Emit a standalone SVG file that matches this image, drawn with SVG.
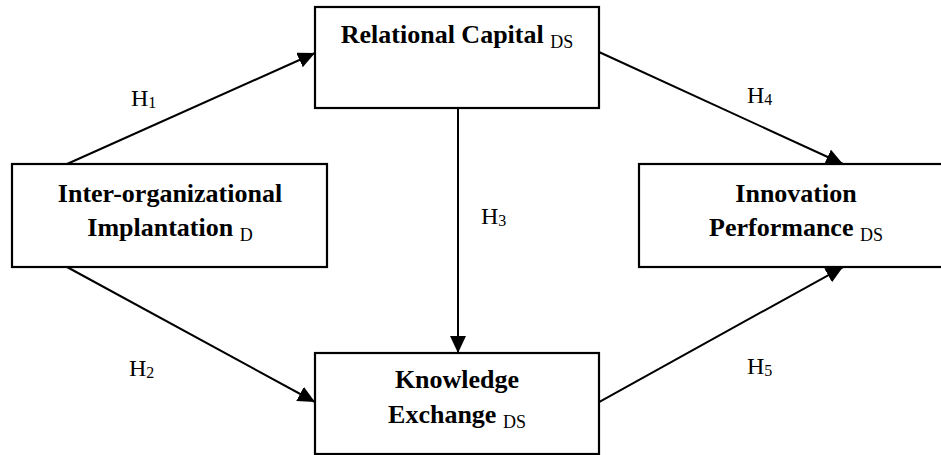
<svg xmlns="http://www.w3.org/2000/svg" width="941" height="455" viewBox="0 0 941 455">
  <style>
    .box { fill: #ffffff; stroke: #000000; stroke-width: 2.2; }
    .title { font-family: "Liberation Serif", "Times New Roman", serif; font-weight: bold; font-size: 26px; fill: #000000; }
    .sub { font-family: "Liberation Serif", "Times New Roman", serif; font-weight: normal; font-size: 18px; }
    .hyp { font-family: "Liberation Serif", "Times New Roman", serif; font-size: 24px; fill: #000000; }
    .hsub { font-size: 16px; }
    .edge { stroke: #000000; stroke-width: 2; fill: none; marker-end: url(#arrow); }
  </style>
  <defs>
    <marker id="arrow" markerUnits="userSpaceOnUse" markerWidth="18" markerHeight="16" refX="17" refY="8" orient="auto">
      <path d="M0,0 L17,8 L0,16 z" fill="#000000"/>
    </marker>
  </defs>
  <rect width="941" height="455" fill="#ffffff"/>

  <g id="connectors">
    <line class="edge" x1="67" y1="164" x2="315" y2="53"/>
    <line class="edge" x1="67" y1="267" x2="315" y2="402"/>
    <line class="edge" x1="458" y1="108" x2="458" y2="353"/>
    <line class="edge" x1="599" y1="52" x2="843" y2="164"/>
    <line class="edge" x1="599" y1="402" x2="843" y2="267"/>
  </g>

  <g id="labels">
    <text class="hyp" x="131" y="106">H<tspan class="hsub" dy="2">1</tspan></text>
    <text class="hyp" x="129" y="376">H<tspan class="hsub" dy="2">2</tspan></text>
    <text class="hyp" x="481" y="224">H<tspan class="hsub" dy="2">3</tspan></text>
    <text class="hyp" x="747" y="103">H<tspan class="hsub" dy="2">4</tspan></text>
    <text class="hyp" x="747" y="374">H<tspan class="hsub" dy="2">5</tspan></text>
  </g>

  <g id="relational-capital">
    <rect class="box" x="315" y="7" width="284" height="101"/>
    <text class="title" x="457" y="43" text-anchor="middle">Relational Capital <tspan class="sub" dy="5">DS</tspan></text>
  </g>

  <g id="inter-organizational-implantation">
    <rect class="box" x="12" y="164" width="315" height="103"/>
    <text class="title" x="170" y="202" text-anchor="middle">Inter-organizational</text>
    <text class="title" x="170" y="236" text-anchor="middle">Implantation <tspan class="sub" dy="5">D</tspan></text>
  </g>

  <g id="innovation-performance">
    <rect class="box" x="639" y="164" width="316" height="103"/>
    <text class="title" x="796" y="202" text-anchor="middle">Innovation</text>
    <text class="title" x="796" y="236" text-anchor="middle">Performance <tspan class="sub" dy="5">DS</tspan></text>
  </g>

  <g id="knowledge-exchange">
    <rect class="box" x="315" y="353" width="284" height="101"/>
    <text class="title" x="457" y="388" text-anchor="middle">Knowledge</text>
    <text class="title" x="457" y="423" text-anchor="middle">Exchange <tspan class="sub" dy="5">DS</tspan></text>
  </g>
</svg>
